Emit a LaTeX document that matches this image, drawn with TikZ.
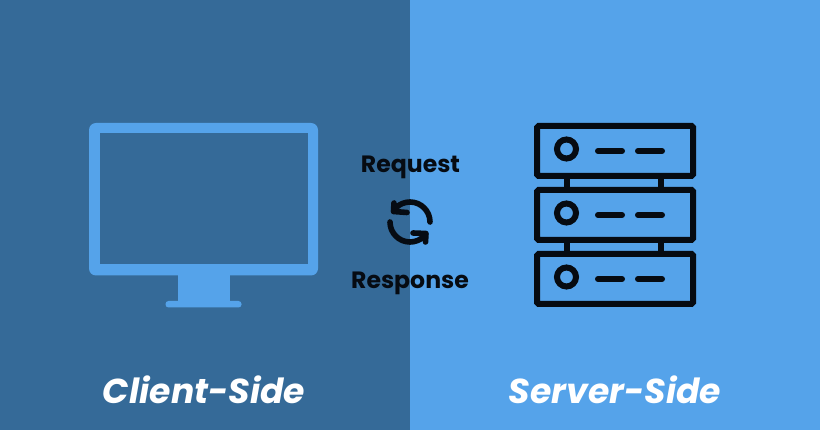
\documentclass[tikz,border=0pt]{standalone}
\usepackage{fontspec}
\setmainfont{Poppins}
\definecolor{darkside}{HTML}{356A98}
\definecolor{lightside}{HTML}{55A3EA}
\definecolor{ink}{HTML}{060B12}
\tikzset{
  rack/.style={draw=ink,line width=6pt,rounded corners=1.5pt},
  rackline/.style={draw=ink,line width=6pt},
  led/.style={draw=ink,line width=6pt,line cap=round},
  sync/.style={draw=ink,line width=5.6pt,line cap=round,line join=round},
  sidelabel/.style={text=white,font=\fontsize{34.6}{38}\selectfont\bfseries\itshape,anchor=center,inner sep=0pt},
  midlabel/.style={text=ink,font=\fontsize{23.6}{27}\selectfont\fontseries{sb}\selectfont,anchor=center,inner sep=0pt}
}
\begin{document}
\begin{tikzpicture}[x=1pt,y=-1pt]
\useasboundingbox (0,0) rectangle (820,430);
\fill[darkside] (0,0) rectangle (410,430);
\fill[lightside] (410,0) rectangle (820,430);
% monitor
\fill[lightside,rounded corners=7pt] (89,123) rectangle (318,275.5);
\fill[darkside] (99.5,133) rectangle (307.5,264.5);
\fill[lightside] (178,270) rectangle (230,303);
\fill[lightside,rounded corners=3pt] (165.5,301) rectangle (241.5,307.5);
% server
\foreach \t/\n in {126/a,190/b,254/c}{
  \draw[rack] (537,\t) rectangle (693,\t+50);
  \draw[line width=6pt,draw=ink] (566.5,\t+23) circle (9.5);
  \draw[led] (598,\t+25) -- (622,\t+25);
  \draw[led] (638,\t+25) -- (662,\t+25);
}
\foreach \t in {179,243}{
  \draw[rackline] (566.5,\t) -- (566.5,\t+8);
  \draw[rackline] (661,\t) -- (661,\t+8);
}
% sync icon
\draw[sync] (430,222) arc[start angle=0,end angle=-132,radius=20];
\draw[sync] (394,203) -- (393.5,211.5) -- (407,212.5);
\draw[sync] (390,222) arc[start angle=180,end angle=48,radius=20];
\draw[sync] (425.5,242) -- (426,233.5) -- (413,233);
% text
\node[midlabel] (req) at (410.5,167.5) {Request};
\node[midlabel] (res) at (410,283.5) {Response};
\node[sidelabel] (client) at (204,389.5) {Client-Side};
\node[sidelabel] (server) at (615,389.5) {Server-Side};
\end{tikzpicture}
\end{document}
